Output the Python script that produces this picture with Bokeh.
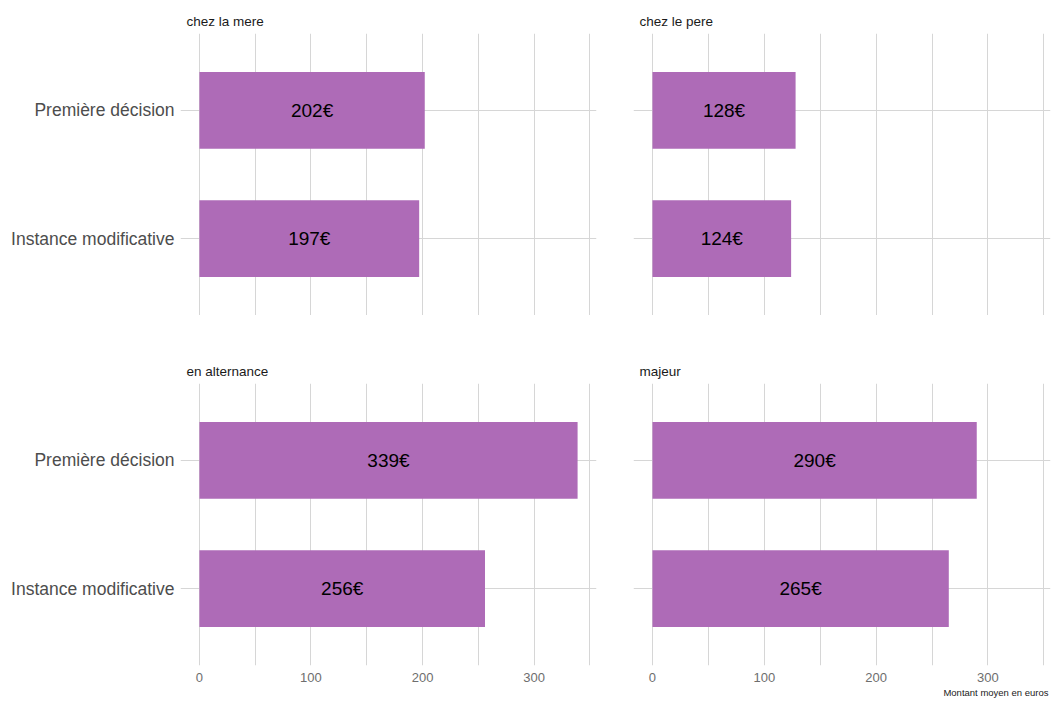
from bokeh.plotting import figure
from bokeh.layouts import column, row
from bokeh.models import ColumnDataSource, FactorRange, Range1d, FixedTicker, Title
from bokeh.core.properties import value
from bokeh.embed import file_html
from bokeh.resources import INLINE

categories = ["Instance modificative", "Première décision"]
facets = ["chez la mere", "chez le pere", "en alternance", "majeur"]
mere = [197, 202]
pere = [124, 128]
alternance = [256, 339]
majeur = [265, 290]
series = [mere, pere, alternance, majeur]
x_ticks = [0, 100, 200, 300]
x_minor = [50, 150, 250, 350]
x_label = "Montant moyen en euros"

BAR = "#AE6BB7"
GRID = "#D6D6D6"
FONT = "Liberation Sans"

def make(idx):
    left = idx % 2 == 0
    top = idx < 2
    vals = series[idx]
    src = ColumnDataSource(dict(
        cat=categories, val=vals, mid=[v / 2 for v in vals],
        lab=["%d€" % v for v in vals]))
    lb = 180 if left else 18
    rb = 19 if left else 1
    fw = 416 if left else 417
    tb = 33 if top else 68
    bb = 0 if top else 35
    p = figure(width=lb + fw + rb, height=tb + 282 + bb,
               y_range=FactorRange(factors=categories, range_padding=0.1,
                                   range_padding_units="absolute"),
               x_range=Range1d(-16.95, 355.95),
               output_backend="svg", toolbar_location=None,
               min_border_left=lb, min_border_right=rb,
               min_border_top=tb, min_border_bottom=bb)
    p.outline_line_color = None
    p.background_fill_color = "white"
    p.hbar(y="cat", right="val", left=0, height=0.6, source=src,
           fill_color=BAR, line_color=None)
    p.text(x="mid", y="cat", text="lab", source=src, text_align="center",
           text_baseline="middle", text_font=value(FONT),
           text_font_size="19px", text_color="black")
    p.xaxis.ticker = FixedTicker(ticks=x_ticks, minor_ticks=x_minor)
    p.xgrid.grid_line_color = GRID
    p.xgrid.minor_grid_line_color = GRID
    p.ygrid.grid_line_color = GRID
    for ax in p.axis:
        ax.axis_line_color = None
        ax.major_tick_line_color = None
        ax.minor_tick_line_color = None
        ax.major_label_text_font = FONT
    p.xaxis.major_label_text_font_size = "13px"
    p.xaxis.major_label_text_color = "#6E6E6E"
    p.xaxis.major_label_standoff = 1
    p.yaxis.major_label_text_font_size = "17.5px"
    p.yaxis.major_label_text_color = "#4D4D4D"
    p.yaxis.major_label_standoff = 0
    if top:
        p.xaxis.visible = False
    if not left:
        p.yaxis.visible = False
    p.title = Title(text=facets[idx], align="left", offset=6, standoff=9,
                    text_font=FONT, text_font_size="13.5px",
                    text_font_style="normal", text_color="#1A1A1A")
    if idx == 3:
        p.add_layout(Title(text=x_label, align="right", text_font=FONT,
                           text_font_size="9.5px", text_font_style="normal",
                           text_color="#1A1A1A", standoff=0, offset=2), "below")
    return p

plots = [make(i) for i in range(4)]
layout = column(row(plots[0], plots[1]), row(plots[2], plots[3]))
open("out.html", "w").write(file_html(layout, INLINE))
